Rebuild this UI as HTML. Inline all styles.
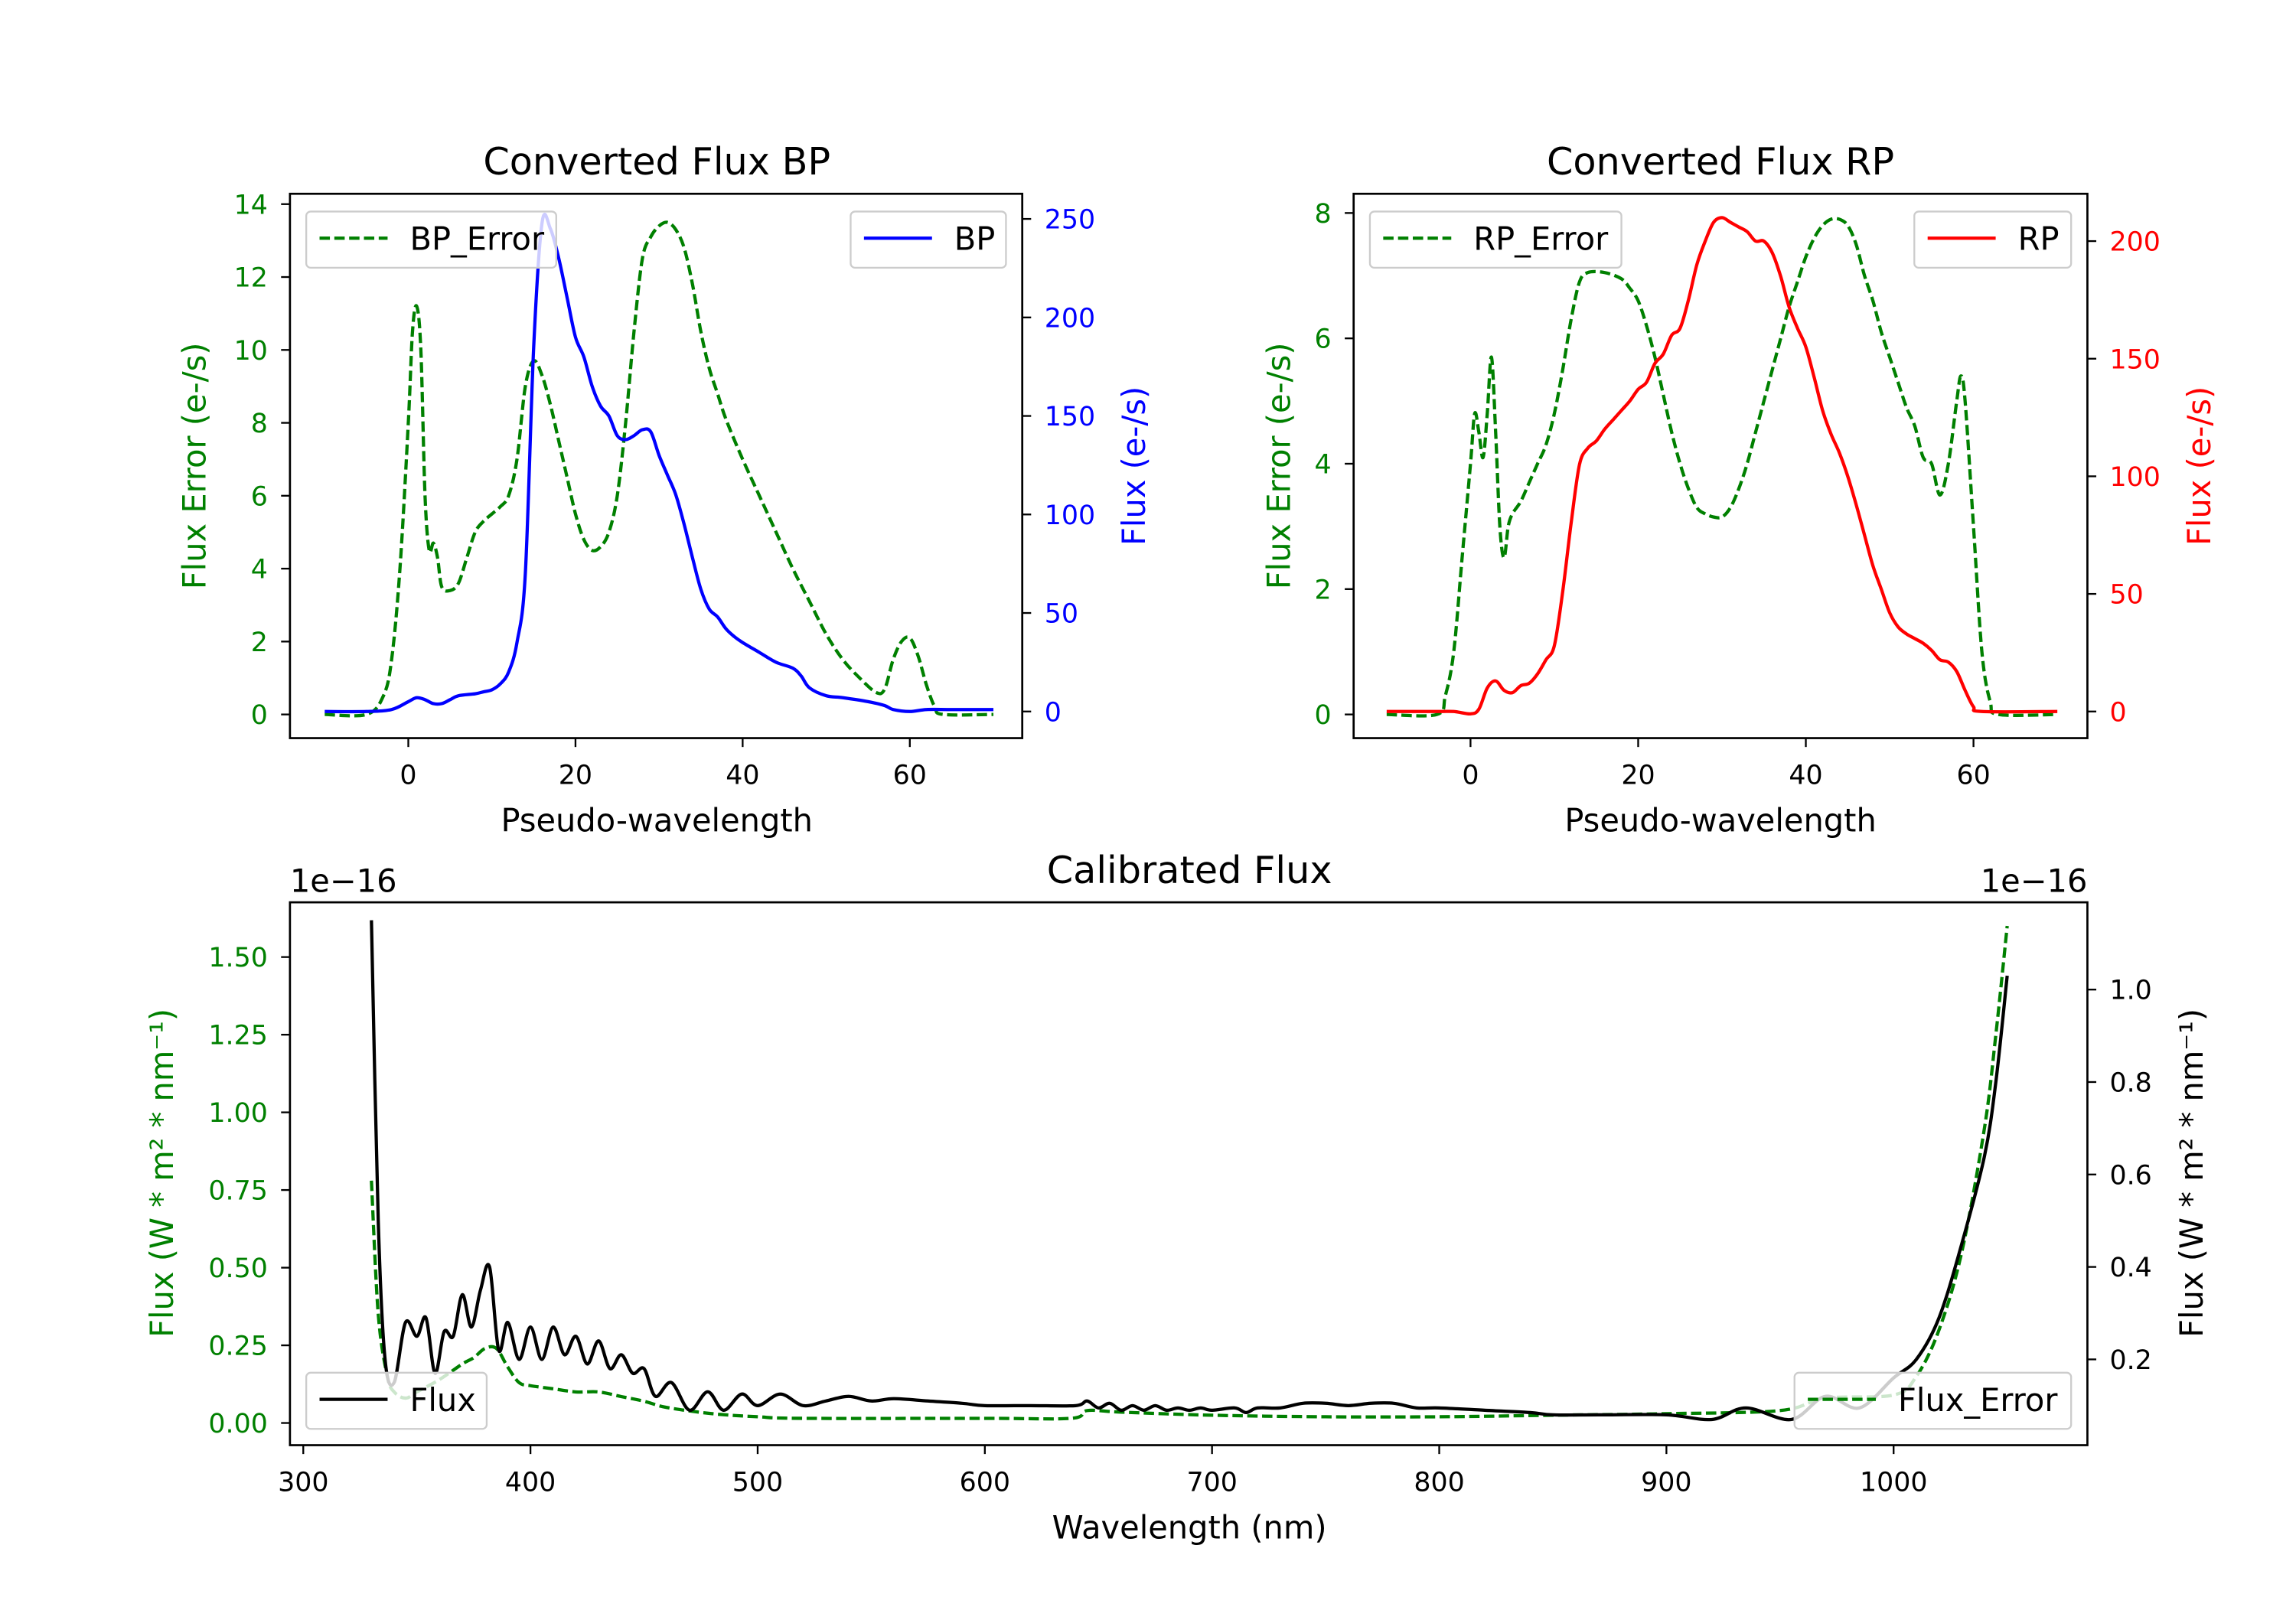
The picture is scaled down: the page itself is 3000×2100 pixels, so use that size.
<!DOCTYPE html>
<html><head><meta charset="utf-8"><style>html,body{margin:0;padding:0;background:#fff}svg{display:block}text{font-family:"DejaVu Sans","Liberation Sans",sans-serif}</style></head>
<body>
<svg id="fig" xmlns="http://www.w3.org/2000/svg" width="3000" height="2100" viewBox="0 0 1552 1086.4" preserveAspectRatio="none">
<rect width="1552" height="1086.4" fill="#fff"/>
</svg>
<script>
// ---- data ----
const bpX=[-10,-5,-2,0,1,2,3,4,5,6,8,9,10,11,12,13,14,15,16,17,18,19,20,21,22,23,24,25,26,27,28,29,30,31,32,33,34,35,36,37,38,39,40,42,44,46,47,48,50,52,55,57,58,60,62,65,70];
const bpFlux=[0,0,1,5,7,6,4,4,6,8,9,10,11,14,20,35,70,185,248,245,230,210,190,180,165,155,150,140,138,140,143,142,130,120,110,95,78,62,52,48,42,38,35,30,25,22,18,12,8,7,5,3,1,0,1,1,1];
const bpErrX=[-10,-5,-3,-2,-1,0,0.5,1,1.5,2,2.5,3,3.5,4,5,6,7,8,9,10,11,12,13,14,15,16,17,18,19,20,21,22,23,24,25,26,27,28,29,30,31,32,33,34,35,36,37,38,40,42,44,46,48,50,52,54,56,57,58,59,60,61,62,63,64,70];
const bpErr=[0,0,0.5,1.5,4,8,10.5,11.2,10,6,4.5,4.7,4.3,3.5,3.4,3.6,4.3,5.0,5.3,5.5,5.7,6.0,7,9,9.7,9.3,8.5,7.5,6.5,5.5,4.8,4.5,4.6,5.0,6,8,10.5,12.5,13.1,13.4,13.5,13.3,12.8,11.8,10.5,9.5,8.8,8.1,7.0,6.0,5.0,4.0,3.1,2.2,1.5,1.0,0.6,0.7,1.5,2.0,2.1,1.6,0.8,0.2,0,0];
const rpX=[-10,-4,-2,0,1,2,3,4,5,6,7,8,9,10,11,12,13,14,15,16,17,18,19,20,21,22,23,24,25,26,27,28,29,30,31,32,33,34,35,36,37,38,39,40,41,42,43,44,45,46,47,48,49,50,51,52,53,54,55,56,57,58,59,60,61,70];
const rpFlux=[0,0,0,-1,1,10,13,9,8,11,12,16,22,28,51,80,105,112,115,120,124,128,132,137,140,148,152,160,163,175,190,200,208,210,208,206,204,200,200,195,185,172,163,155,142,128,118,110,100,88,75,62,52,42,36,33,31,29,26,22,21,17,9,2,0,0];
const rpErrX=[-10,-4,-3,-2,-1,0,0.5,1,1.5,2,2.5,3,3.5,4,4.5,5,6,7,8,9,10,11,12,13,14,16,18,19,20,21,22,23,24,25,26,27,28,29,30,31,32,33,34,35,36,37,38,39,40,41,42,43,44,45,46,47,48,49,50,51,52,53,54,55,56,57,58,58.5,59,60,61,62,63,70];
const rpErr=[0,0,0.3,1,2.5,4.0,4.8,4.5,4.1,4.8,5.7,4.5,3.0,2.5,3.0,3.2,3.4,3.7,4.0,4.3,4.8,5.5,6.3,6.9,7.05,7.05,6.95,6.8,6.6,6.2,5.7,5.1,4.5,4.0,3.6,3.3,3.2,3.15,3.15,3.3,3.6,4.0,4.5,5.0,5.5,6.0,6.5,6.9,7.3,7.6,7.8,7.9,7.9,7.8,7.5,7.0,6.6,6.1,5.7,5.3,4.9,4.6,4.1,4.0,3.5,4.0,5.0,5.4,5.0,3.0,1.0,0.2,0,0];
const calX=[330,333,336,340,345,350,354,358,362,366,370,374,378,382,386,390,395,400,405,410,415,420,425,430,435,440,445,450,455,462,470,478,485,493,500,510,520,530,540,550,560,575,590,600,620,640,645,650,655,660,665,670,675,680,685,690,695,700,710,715,720,730,740,750,760,770,780,790,800,820,840,850,870,900,920,935,955,970,985,1000,1010,1020,1030,1040,1045,1050];
const calFlux=[1.15,0.5,0.2,0.15,0.28,0.25,0.29,0.17,0.26,0.25,0.34,0.27,0.35,0.40,0.22,0.28,0.20,0.27,0.20,0.27,0.21,0.25,0.19,0.24,0.18,0.21,0.17,0.18,0.12,0.15,0.09,0.13,0.09,0.125,0.10,0.125,0.1,0.11,0.12,0.11,0.115,0.11,0.105,0.1,0.1,0.1,0.11,0.095,0.105,0.09,0.1,0.09,0.1,0.09,0.095,0.09,0.095,0.09,0.095,0.085,0.095,0.095,0.105,0.105,0.1,0.105,0.105,0.095,0.095,0.09,0.085,0.08,0.08,0.08,0.07,0.095,0.07,0.12,0.095,0.16,0.2,0.29,0.45,0.64,0.8,1.03];
const calErrX=[330,333,337,340,345,350,360,370,375,380,385,390,395,400,410,420,430,440,450,460,480,500,520,600,638,645,660,700,750,800,850,900,950,970,1000,1010,1020,1030,1040,1045,1050];
const calErr=[0.78,0.35,0.15,0.10,0.08,0.10,0.14,0.19,0.21,0.24,0.24,0.18,0.13,0.12,0.11,0.10,0.10,0.085,0.07,0.05,0.03,0.02,0.015,0.015,0.015,0.04,0.035,0.025,0.02,0.02,0.025,0.03,0.04,0.08,0.09,0.15,0.3,0.55,0.95,1.25,1.6];
const bpTicksX=[0,20,40,60], bpTicksL=[0,2,4,6,8,10,12,14], bpTicksR=[0,50,100,150,200,250];
const rpTicksL=[0,2,4,6,8], rpTicksR=[0,50,100,150,200];
const calTicksX=[300,400,500,600,700,800,900,1000], calTicksL=[0,0.25,0.5,0.75,1.0,1.25,1.5], calTicksR=[0.2,0.4,0.6,0.8,1.0];

const svg=document.getElementById('fig');
const NS='http://www.w3.org/2000/svg';
const FT=18, FL=21.5, FTI=25.5;
function el(tag,attrs,parent){const e=document.createElementNS(NS,tag);for(const k in attrs)e.setAttribute(k,attrs[k]);(parent||svg).appendChild(e);return e;}
function txt(s,x,y,attrs,name){const t=el('text',Object.assign({x:x,y:y,'font-size':FT},attrs));t.textContent=s;


return t;}
function lin(d0,d1,p0,p1){return v=>p0+(v-d0)*(p1-p0)/(d1-d0);}
function smoothPath(xs,ys,sx,sy){const P=xs.map((x,i)=>[sx(x),sy(ys[i])]);let d='M'+P[0][0].toFixed(2)+','+P[0][1].toFixed(2);
for(let i=0;i<P.length-1;i++){const p0=P[i-1]||P[i],p1=P[i],p2=P[i+1],p3=P[i+2]||p2;
const c1=[p1[0]+(p2[0]-p0[0])/6,p1[1]+(p2[1]-p0[1])/6],c2=[p2[0]-(p3[0]-p1[0])/6,p2[1]-(p3[1]-p1[1])/6];
d+=' C'+c1[0].toFixed(2)+','+c1[1].toFixed(2)+' '+c2[0].toFixed(2)+','+c2[1].toFixed(2)+' '+p2[0].toFixed(2)+','+p2[1].toFixed(2);}return d;}
function series(xs,ys,sx,sy,color,dash,name){const p=el('path',{d:smoothPath(xs,ys,sx,sy),fill:'none',stroke:color,'stroke-width':2.2,'stroke-dasharray':dash?'7,3':'none','stroke-linejoin':'round'});

}
function frame(L,R,T,B,name){const r=el('rect',{x:L,y:T,width:R-L,height:B-T,fill:'none',stroke:'#000','stroke-width':1.4});

}
function xticks(ticks,sx,B,fmt,name){ticks.forEach(t=>{const x=sx(t);el('line',{x1:x,x2:x,y1:B,y2:B+6,stroke:'#000','stroke-width':1.2});txt(fmt(t),x,B+31,{'text-anchor':'middle'},name);});}
function yticks(ticks,sy,X,side,color,fmt,name){ticks.forEach(t=>{const y=sy(t);el('line',{x1:X,x2:X+side*6,y1:y,y2:y,stroke:'#000','stroke-width':1.2});
txt(fmt(t),side<0?X-15:X+15,y+6.5,{'text-anchor':side<0?'end':'start',fill:color},name);});}
function legend(x,y,w,label,color,dash,name){const g=el('g',{});


el('rect',{x:x,y:y,width:w,height:38,rx:3,fill:'#fff','fill-opacity':0.8,stroke:'#ccc','stroke-width':1.2},g);
el('line',{x1:x+9,x2:x+55,y1:y+18,y2:y+18,stroke:color,'stroke-width':2.2,'stroke-dasharray':dash?'7,3':'none'},g);
const t=el('text',{x:x+70,y:y+26,'font-size':FL},g);t.textContent=label;}
function ylabel(s,x,y,color,name){txt(s,x,y,{'text-anchor':'middle','font-size':FL,fill:color,transform:'rotate(-90 '+x+' '+y+')'},name);}
const I=v=>String(v);

// ---- BP panel ----
{const L=196,R=691,T=131,B=499;const sx=lin(0,60,276,615),syl=lin(0,14,483,138),syr=lin(0,250,481,148);
series(bpErrX,bpErr,sx,syl,'#008000',true,'bp-error-line');
series(bpX,bpFlux,sx,syr,'#0000ff',false,'bp-flux-line');
frame(L,R,T,B,'bp-plot-area');
xticks(bpTicksX,sx,B,I,'bp-x-tick');yticks(bpTicksL,syl,L,-1,'#008000',I,'bp-left-tick');yticks(bpTicksR,syr,R,1,'#0000ff',I,'bp-right-tick');
legend(207,143,169,'BP_Error','#008000',true,'bp-error-legend');legend(575,143,105,'BP','#0000ff',false,'bp-legend');
txt('Converted Flux BP',444,118,{'text-anchor':'middle','font-size':FTI},'bp-title');
txt('Pseudo-wavelength',444,562,{'text-anchor':'middle','font-size':FL},'bp-x-axis-title');
ylabel('Flux Error (e-/s)',139,315,'#008000','bp-left-axis-title');ylabel('Flux (e-/s)',774,315,'#0000ff','bp-right-axis-title');}

// ---- RP panel ----
{const L=915,R=1411,T=131,B=499;const sx=lin(0,60,994,1334),syl=lin(0,8,483,144),syr=lin(0,200,481,163);
series(rpErrX,rpErr,sx,syl,'#008000',true,'rp-error-line');
series(rpX,rpFlux,sx,syr,'#ff0000',false,'rp-flux-line');
frame(L,R,T,B,'rp-plot-area');
xticks(bpTicksX,sx,B,I,'rp-x-tick');yticks(rpTicksL,syl,L,-1,'#008000',I,'rp-left-tick');yticks(rpTicksR,syr,R,1,'#ff0000',I,'rp-right-tick');
legend(926,143,170,'RP_Error','#008000',true,'rp-error-legend');legend(1294,143,106,'RP','#ff0000',false,'rp-legend');
txt('Converted Flux RP',1163,118,{'text-anchor':'middle','font-size':FTI},'rp-title');
txt('Pseudo-wavelength',1163,562,{'text-anchor':'middle','font-size':FL},'rp-x-axis-title');
ylabel('Flux Error (e-/s)',872,315,'#008000','rp-left-axis-title');ylabel('Flux (e-/s)',1494,315,'#ff0000','rp-right-axis-title');}

// ---- Calibrated panel ----
{const L=196,R=1411,T=610,B=977;const sx=lin(300,1000,205,1280),syl=lin(0,1.5,962,647),syr=lin(0.2,1.0,919,669);
series(calErrX,calErr,sx,syl,'#008000',true,'calibrated-error-line');
series(calX,calFlux,sx,syr,'#000000',false,'calibrated-flux-line');
frame(L,R,T,B,'calibrated-plot-area');
xticks(calTicksX,sx,B,I,'calibrated-x-tick');yticks(calTicksL,syl,L,-1,'#008000',v=>v.toFixed(2),'calibrated-left-tick');yticks(calTicksR,syr,R,1,'#000',v=>v.toFixed(1),'calibrated-right-tick');
legend(207,928,122,'Flux','#000',false,'flux-legend');legend(1213,928,187,'Flux_Error','#008000',true,'flux-error-legend');
txt('Calibrated Flux',804,597,{'text-anchor':'middle','font-size':FTI},'calibrated-title');
txt('Wavelength (nm)',804,1040,{'text-anchor':'middle','font-size':FL},'calibrated-x-axis-title');
txt('1e\u221216',196,603,{'font-size':FL},'left-offset-label');txt('1e\u221216',1411,603,{'font-size':FL,'text-anchor':'end'},'right-offset-label');
ylabel('Flux (W * m\u00b2 * nm\u207b\u00b9)',117,793,'#008000','calibrated-left-axis-title');ylabel('Flux (W * m\u00b2 * nm\u207b\u00b9)',1489,793,'#000','calibrated-right-axis-title');}
</script>
</body></html>
